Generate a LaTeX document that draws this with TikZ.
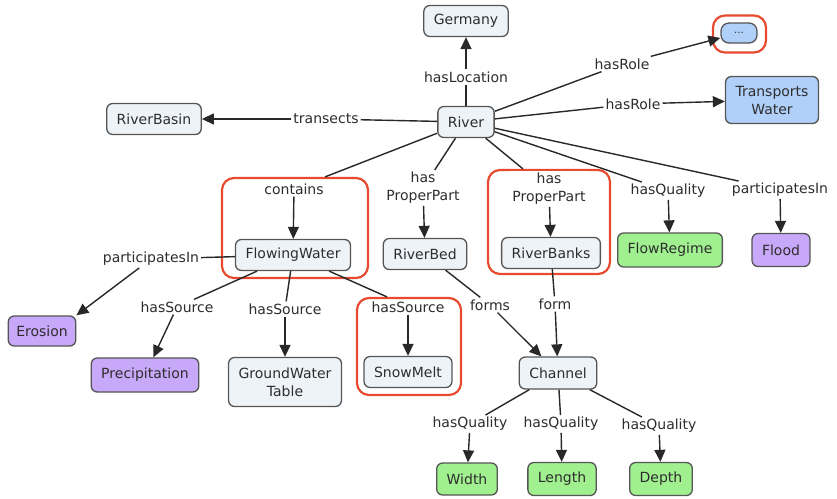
\documentclass[tikz,border=0pt]{standalone}
\usepackage{fontspec}
\setmainfont{DejaVu Sans}
\usetikzlibrary{arrows.meta}
\definecolor{cfill}{RGB}{238,243,248}
\definecolor{bluefill}{RGB}{176,208,250}
\definecolor{greenfill}{RGB}{160,240,144}
\definecolor{purplefill}{RGB}{200,168,248}
\definecolor{framered}{RGB}{232,74,48}
\definecolor{bordergray}{RGB}{85,85,85}
\definecolor{linecol}{RGB}{40,40,40}
\definecolor{txt}{RGB}{45,45,45}
\tikzset{
  concept/.style={draw=bordergray, fill=cfill, rounded corners=6pt, line width=1.3pt,
    inner xsep=10pt, minimum height=31pt, align=center, text=txt},
  bluec/.style={concept, fill=bluefill},
  greenc/.style={concept, fill=greenfill},
  purplec/.style={concept, fill=purplefill},
  lbl/.style={fill=white, inner sep=2pt, align=center, text=txt},
  link/.style={draw=linecol, line width=1.4pt},
  arr/.style={link, -{Triangle[length=12pt,width=11pt]}},
  grpframe/.style={draw=framered, line width=2.2pt, rounded corners=12pt, inner sep=0pt}
}
\begin{document}
\begin{tikzpicture}[x=1pt, y=-1pt, font=\fontsize{14}{18}\selectfont]
\useasboundingbox (0,0) rectangle (837,498);
% frames
\node[grpframe, minimum width=146pt, minimum height=100pt] (fA) at (295,228) {};
\node[grpframe, minimum width=122pt, minimum height=104pt] (fB) at (549,222) {};
\node[grpframe, minimum width=104pt, minimum height=97pt] (fC) at (409,346.5) {};
\node[grpframe, minimum width=53pt, minimum height=37pt] (fD) at (739.5,34) {};
% concepts
\node[concept] (river) at (466,122) {River};
\node[concept] (germany) at (466,21) {Germany};
\node[bluec, minimum width=36pt, minimum height=20pt, inner sep=0pt, rounded corners=8pt, font=\fontsize{10}{12}\selectfont] (dots) at (739,33) {...};
\node[bluec, minimum height=47pt] (transp) at (772,100) {Transports\\Water};
\node[concept] (basin) at (154,119) {RiverBasin};
\node[concept] (flowing) at (293,255) {FlowingWater};
\node[concept] (bed) at (425,254) {RiverBed};
\node[concept] (banks) at (551,253) {RiverBanks};
\node[greenc, minimum height=34pt] (regime) at (670,250) {FlowRegime};
\node[purplec, minimum height=33pt] (flood) at (781,250) {Flood};
\node[purplec, minimum height=30pt, inner xsep=8pt] (erosion) at (42,331) {Erosion};
\node[purplec, minimum height=34pt] (precip) at (145,375) {Precipitation};
\node[concept, minimum height=49pt] (ground) at (285,382) {GroundWater\\Table};
\node[concept] (snow) at (408,372) {SnowMelt};
\node[concept, minimum height=32pt] (channel) at (558,373) {Channel};
\node[greenc, minimum height=32pt] (width) at (467,479) {Width};
\node[greenc, minimum height=33pt] (length) at (562,479) {Length};
\node[greenc, minimum height=33pt] (depth) at (661,479) {Depth};
% linking phrases
\node[lbl] (hasloc) at (466,77) {hasLocation};
\node[lbl] (role1) at (622,64) {hasRole};
\node[lbl] (role2) at (633,104) {hasRole};
\node[lbl] (transects) at (326,119) {transects};
\node[lbl] (contains) at (294,189) {contains};
\node[lbl] (hpp1) at (423,188) {has\\ProperPart};
\node[lbl] (hpp2) at (549,189) {has\\ProperPart};
\node[lbl] (hq) at (668,191) {hasQuality};
\node[lbl] (part2) at (780,190) {participatesIn};
\node[lbl] (part1) at (151,259) {participatesIn};
\node[lbl] (hs1) at (177,307) {hasSource};
\node[lbl] (hs2) at (285,309) {hasSource};
\node[lbl] (hs3) at (408,307) {hasSource};
\node[lbl] (forms) at (490,305) {forms};
\node[lbl] (form) at (555,304) {form};
\node[lbl] (hq1) at (470,424) {hasQuality};
\node[lbl] (hq2) at (561,424) {hasQuality};
\node[lbl] (hq3) at (659,426) {hasQuality};
% connectors
\draw[link] (river) -- (hasloc);
\draw[arr] (hasloc) -- (germany);
\draw[link] (river) -- (role1);
\draw[arr] (role1) -- (dots);
\draw[link] (river) -- (role2);
\draw[arr] (role2) -- (transp);
\draw[link] (river) -- (transects);
\draw[arr] (transects) -- (basin);
\draw[link] (river) -- ([xshift=30pt]fA.north);
\draw[arr] (contains) -- (flowing);
\draw[link] (river) -- (hpp1);
\draw[arr] (hpp1) -- (bed);
\draw[link] (river) -- ([xshift=-26pt]fB.north);
\draw[arr] (hpp2) -- (banks);
\draw[link] (river) -- (hq);
\draw[arr] (hq) -- (regime);
\draw[link] (river) -- (part2);
\draw[arr] (part2) -- (flood);
\draw[link] (flowing) -- (part1);
\draw[arr] (part1) -- (erosion.north east);
\draw[link] (flowing) -- (hs1);
\draw[arr] (hs1) -- (precip);
\draw[link] (flowing) -- (hs2);
\draw[arr] (hs2) -- (ground);
\draw[link] (flowing) -- ([xshift=-22pt]fC.north);
\draw[arr] (hs3) -- (snow);
\draw[link] (bed) -- (forms);
\draw[arr] (forms) -- (channel);
\draw[link] (banks) -- (form);
\draw[arr] (form) -- (channel);
\draw[link] (channel) -- (hq1);
\draw[arr] (hq1) -- (width);
\draw[link] (channel) -- (hq2);
\draw[arr] (hq2) -- (length);
\draw[link] (channel) -- (hq3);
\draw[arr] (hq3) -- (depth);
\end{tikzpicture}
\end{document}
